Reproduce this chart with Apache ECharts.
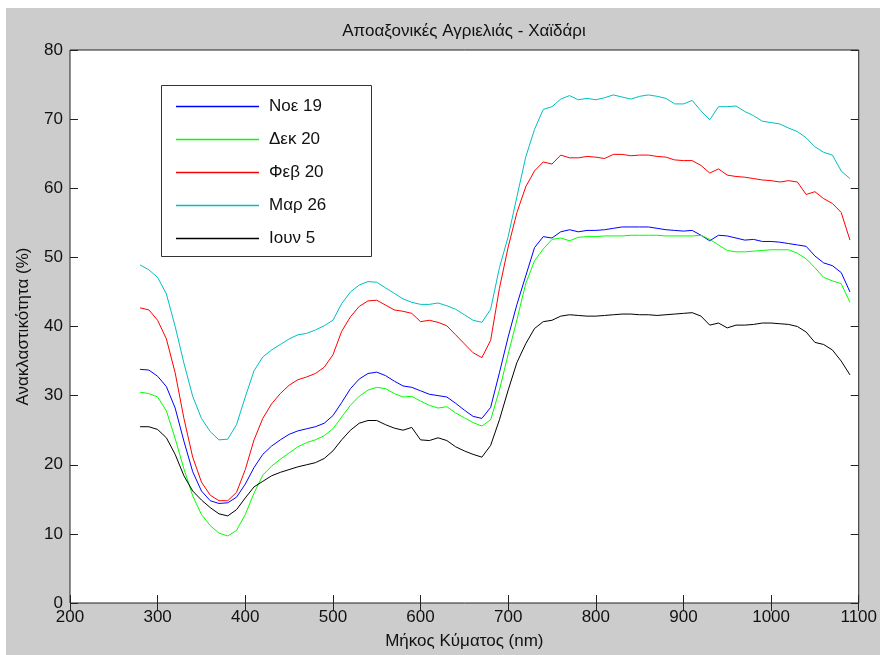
<!DOCTYPE html>
<html>
<head>
<meta charset="utf-8">
<script src="https://cdn.jsdelivr.net/npm/echarts@6/dist/echarts.min.js"></script>
<style>
  html, body { margin: 0; padding: 0; background: #fff; }
  #chart { width: 880px; height: 655px; }
</style>
</head>
<body>
<div id="chart"></div>
<script>
// μήκος κύματος (nm)
const wavelength = [
  280, 290, 300, 310, 320, 330, 340, 350, 360, 370, 380, 390, 400, 410, 420, 430, 440, 450, 460, 470,
  480, 490, 500, 510, 520, 530, 540, 550, 560, 570, 580, 590, 600, 610, 620, 630, 640, 650, 660, 670,
  680, 690, 700, 710, 720, 730, 740, 750, 760, 770, 780, 790, 800, 810, 820, 830, 840, 850, 860, 870,
  880, 890, 900, 910, 920, 930, 940, 950, 960, 970, 980, 990, 1000, 1010, 1020, 1030, 1040, 1050, 1060, 1070,
  1080, 1090
]
const seriesNames = ['Νοε 19', 'Δεκ 20', 'Φεβ 20', 'Μαρ 26', 'Ιουν 5']
const seriesColors = ['#0000ff', '#00ff00', '#ff0000', '#00bfbf', '#000000']

const noe19 = [
  33.8, 33.7, 32.8, 31.3, 28.2, 23.4, 19.0, 16.2, 14.8, 14.4, 14.5, 15.3, 17.2, 19.6, 21.5, 22.7, 23.6, 24.4, 24.9, 25.2,
  25.5, 26.0, 27.1, 29.0, 31.0, 32.4, 33.2, 33.4, 32.9, 32.1, 31.4, 31.2, 30.7, 30.2, 30.0, 29.8, 28.9, 27.9, 27.0, 26.7,
  28.3, 33.3, 38.5, 43.2, 47.3, 51.4, 53.0, 52.8, 53.7, 54.0, 53.7, 53.9, 53.9, 54.0, 54.2, 54.4, 54.4, 54.4, 54.4, 54.2,
  54.0, 53.9, 53.8, 53.9, 53.2, 52.4, 53.2, 53.1, 52.8, 52.5, 52.6, 52.3, 52.3, 52.2, 52.0, 51.8, 51.6, 50.2, 49.2, 48.8,
  47.8, 45.0
]
const dek20 = [
  30.5, 30.3, 29.8, 27.8, 23.8, 19.4, 15.5, 12.8, 11.2, 10.1, 9.7, 10.5, 12.8, 15.9, 18.5, 19.8, 20.8, 21.7, 22.6, 23.2,
  23.6, 24.2, 25.2, 26.9, 28.6, 29.9, 30.8, 31.2, 31.0, 30.3, 29.8, 29.9, 29.2, 28.6, 28.2, 28.4, 27.5, 26.8, 26.1, 25.6,
  26.5, 30.8, 36.0, 41.0, 46.2, 49.5, 51.2, 52.6, 52.8, 52.4, 52.9, 53.0, 53.0, 53.1, 53.1, 53.1, 53.2, 53.2, 53.2, 53.2,
  53.1, 53.1, 53.1, 53.1, 53.2, 52.6, 51.8, 51.0, 50.8, 50.8, 50.9, 51.0, 51.1, 51.1, 51.1, 50.6, 49.8, 48.5, 47.1, 46.6,
  46.2, 43.5
]
const feb20 = [
  42.7, 42.4, 40.9, 38.2, 33.3, 26.7, 21.1, 17.5, 15.6, 14.8, 14.8, 16.0, 19.3, 23.6, 26.7, 28.8, 30.3, 31.5, 32.3, 32.7,
  33.2, 34.1, 35.9, 39.3, 41.4, 42.9, 43.7, 43.8, 43.1, 42.4, 42.2, 41.9, 40.7, 40.9, 40.6, 40.1, 38.8, 37.5, 36.2, 35.5,
  38.0, 45.5, 51.5, 56.5, 60.2, 62.5, 63.8, 63.5, 64.8, 64.4, 64.4, 64.6, 64.5, 64.3, 64.9, 64.9, 64.7, 64.8, 64.8, 64.6,
  64.5, 64.1, 64.0, 64.0, 63.3, 62.2, 62.8, 61.9, 61.7, 61.6, 61.4, 61.2, 61.1, 60.9, 61.1, 60.9, 59.1, 59.5, 58.5, 57.8,
  56.5, 52.5
]
const mar26 = [
  48.9, 48.2, 47.1, 44.7, 40.0, 34.7, 29.9, 26.7, 24.8, 23.6, 23.7, 25.8, 29.8, 33.6, 35.6, 36.6, 37.4, 38.2, 38.8, 39.0,
  39.5, 40.1, 40.9, 43.3, 45.0, 46.0, 46.5, 46.4, 45.6, 44.8, 44.0, 43.5, 43.2, 43.2, 43.4, 43.0, 42.5, 41.7, 40.9, 40.6,
  42.5, 48.5, 53.0, 58.8, 64.5, 68.5, 71.4, 71.8, 72.9, 73.4, 72.8, 73.0, 72.8, 73.1, 73.5, 73.2, 72.9, 73.3, 73.5, 73.3,
  73.0, 72.2, 72.2, 72.7, 71.2, 69.9, 71.8, 71.8, 71.9, 71.1, 70.5, 69.7, 69.5, 69.3, 68.7, 68.2, 67.3, 66.0, 65.2, 64.8,
  62.5, 61.4
]
const iun5 = [
  25.5, 25.5, 25.1, 23.9, 21.5, 18.4, 16.2, 14.9, 13.8, 12.9, 12.6, 13.5, 15.2, 16.8, 17.6, 18.4, 18.9, 19.3, 19.7, 20.0,
  20.3, 20.9, 22.0, 23.6, 25.0, 26.0, 26.4, 26.4, 25.8, 25.3, 25.0, 25.4, 23.6, 23.5, 23.9, 23.5, 22.6, 22.0, 21.5, 21.1,
  22.8, 26.5, 30.8, 34.8, 37.5, 39.7, 40.7, 40.9, 41.5, 41.7, 41.6, 41.5, 41.5, 41.6, 41.7, 41.8, 41.8, 41.7, 41.7, 41.6,
  41.7, 41.8, 41.9, 42.0, 41.5, 40.2, 40.5, 39.8, 40.2, 40.2, 40.3, 40.5, 40.5, 40.4, 40.3, 40.0, 39.2, 37.7, 37.4, 36.6,
  35.0, 33.0
]
const allValues = [noe19, dek20, feb20, mar26, iun5]

const font = 'Liberation Sans, Arial, sans-serif'
const axisColor = '#222'

const series = allValues.map((vals, k) => ({
  name: seriesNames[k],
  type: 'line',
  symbol: 'none',
  xAxisIndex: 0,
  yAxisIndex: 0,
  lineStyle: { color: seriesColors[k], width: 1 },
  itemStyle: { color: seriesColors[k] },
  data: wavelength.map((w, i) => [w, vals[i]])
}))

const xBase = {
  type: 'value',
  min: 200,
  max: 1100,
  interval: 100,
  axisLine: { show: false },
  axisTick: { inside: true, length: 8, lineStyle: { color: axisColor } },
  splitLine: { show: false }
}
const yBase = {
  type: 'value',
  min: 0,
  max: 80,
  interval: 10,
  axisLine: { show: false },
  axisTick: { inside: true, length: 8, lineStyle: { color: axisColor } },
  splitLine: { show: false }
}

const option = {
  backgroundColor: '#fff',
  animation: false,
  graphic: [
    { type: 'rect', z: -10, silent: true, shape: { x: 6, y: 8, width: 874, height: 647 }, style: { fill: '#cccccc' } },
    { type: 'rect', z: 100, silent: true, shape: { x: 161.5, y: 85.5, width: 210, height: 171 },
      style: { fill: 'none', stroke: '#333', lineWidth: 1 } }
  ],
  title: {
    text: 'Αποαξονικές Αγριελιάς - Χαϊδάρι',
    left: 464,
    top: 23,
    textAlign: 'center',
    padding: 0,
    textStyle: { fontFamily: font, fontSize: 17, fontWeight: 'normal', color: '#111' }
  },
  legend: {
    orient: 'vertical',
    left: 176,
    top: 98,
    padding: 0,
    icon: 'rect',
    itemWidth: 83,
    itemHeight: 1.5,
    itemGap: 16,
    z: 101,
    data: seriesNames,
    textStyle: { fontFamily: font, fontSize: 17, lineHeight: 17, color: '#111', padding: [0, 0, 0, 5] }
  },
  grid: {
    left: 70,
    top: 50,
    right: 18,
    bottom: 52,
    show: true,
    backgroundColor: '#fff',
    borderColor: axisColor,
    borderWidth: 1
  },
  xAxis: [
    Object.assign({}, xBase, {
      position: 'bottom',
      name: 'Μήκος Κύματος (nm)',
      nameLocation: 'middle',
      nameGap: 30,
      nameTextStyle: { fontFamily: font, fontSize: 17, color: '#111' },
      axisLabel: { margin: 6, fontFamily: font, fontSize: 17, color: '#111', formatter: v => String(v) }
    }),
    Object.assign({}, xBase, { position: 'top', axisLabel: { show: false } })
  ],
  yAxis: [
    Object.assign({}, yBase, {
      position: 'left',
      name: 'Ανακλαστικότητα (%)',
      nameLocation: 'middle',
      nameGap: 38,
      nameTextStyle: { fontFamily: font, fontSize: 17, color: '#111' },
      axisLabel: { margin: 7, fontFamily: font, fontSize: 17, color: '#111' }
    }),
    Object.assign({}, yBase, { position: 'right', axisLabel: { show: false } })
  ],
  series: series
}

const myChart = echarts.init(document.getElementById('chart'))
myChart.setOption(option)
</script>
</body>
</html>
